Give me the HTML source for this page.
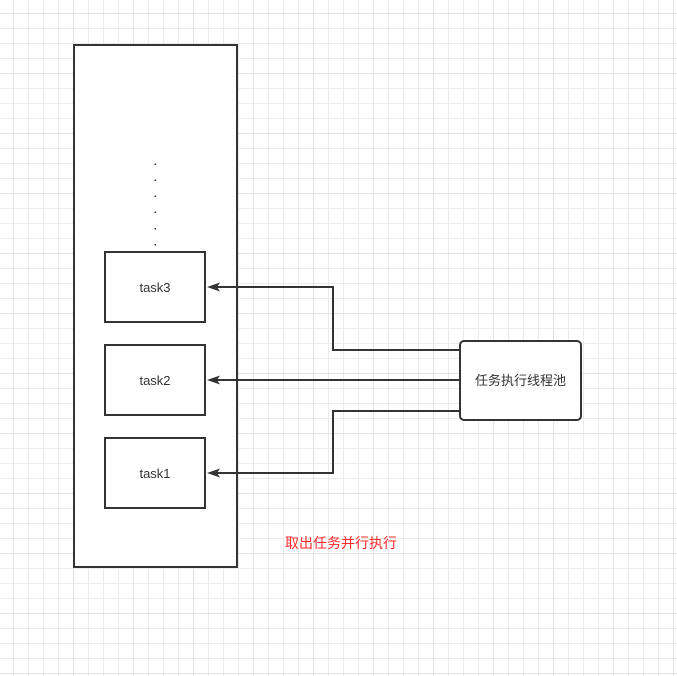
<!DOCTYPE html>
<html><head><meta charset="utf-8"><style>
html,body{margin:0;padding:0;background:#fff;}
svg{display:block;}
text{font-family:"Liberation Sans","Noto Sans CJK SC",sans-serif;font-size:13px;fill:#333;}
</style></head><body>
<svg width="677" height="676" xmlns="http://www.w3.org/2000/svg">
<defs>
<pattern id="g" x="13" y="13" width="15" height="15" patternUnits="userSpaceOnUse">
<path d="M0 0.5H15M0.5 0V15" stroke="#ebebeb" stroke-width="1" fill="none"/>
</pattern>
<pattern id="G" x="13" y="13" width="60" height="60" patternUnits="userSpaceOnUse">
<path d="M0 0.5H60M0.5 0V60" stroke="#e2e2e2" stroke-width="1" fill="none"/>
</pattern>
</defs>
<rect width="677" height="676" fill="url(#g)"/>
<rect width="677" height="676" fill="url(#G)"/>
<rect x="74" y="45" width="163" height="522" fill="#fff" stroke="#333" stroke-width="2"/>
<g fill="#333">
<rect x="154.5" y="163.5" width="1.5" height="1.5"/>
<rect x="154.5" y="179.5" width="1.5" height="1.5"/>
<rect x="154.5" y="195.5" width="1.5" height="1.5"/>
<rect x="154.5" y="211.5" width="1.5" height="1.5"/>
<rect x="154.5" y="228" width="1.5" height="1.5"/>
<rect x="154.5" y="244" width="1.5" height="1.5"/>
</g>
<g fill="#fff" stroke="#333" stroke-width="2">
<rect x="105" y="252" width="100" height="70"/>
<rect x="105" y="345" width="100" height="70"/>
<rect x="105" y="438" width="100" height="70"/>
<rect x="460" y="341" width="121" height="79" rx="4"/>
</g>
<text x="155" y="292" text-anchor="middle">task3</text>
<text x="155" y="385" text-anchor="middle">task2</text>
<text x="155" y="478" text-anchor="middle">task1</text>
<text x="520.5" y="385" text-anchor="middle">任务执行线程池</text>
<g fill="none" stroke="#333" stroke-width="2">
<path d="M460 350H333V287H215"/>
<path d="M460 380H215"/>
<path d="M460 411H333V473H215"/>
</g>
<g fill="#333">
<path d="M207 287L220 282.5L217 287L220 291.5Z"/>
<path d="M207 380L220 375.5L217 380L220 384.5Z"/>
<path d="M207 473L220 468.5L217 473L220 477.5Z"/>
</g>
<text x="341" y="548" text-anchor="middle" style="fill:#ff2a2a;font-size:14px">取出任务并行执行</text>
</svg>
</body></html>
